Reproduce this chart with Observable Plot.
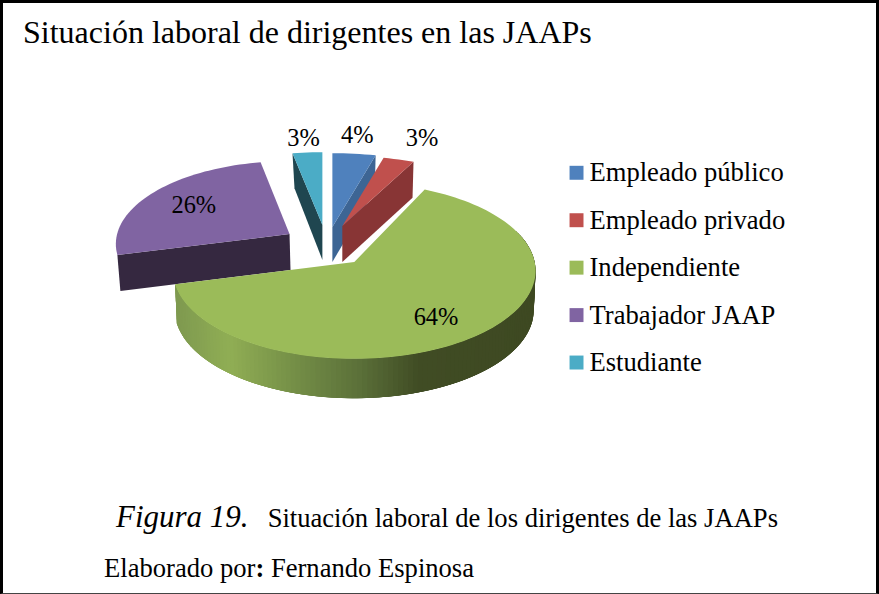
<!DOCTYPE html>
<html lang="es">
<head>
<meta charset="utf-8">
<script src="https://cdn.jsdelivr.net/npm/d3@7"></script>
<script src="https://cdn.jsdelivr.net/npm/@observablehq/plot@0.6"></script>
<style>
  html,body{margin:0;padding:0;background:#fff;}
  #frame{position:relative;box-sizing:border-box;width:879px;height:594px;border:solid #000;border-width:3px 3px 1px 3px;border-bottom-color:#444;overflow:hidden;font-family:"Liberation Serif",serif;color:#000;}
  #title{position:absolute;left:20px;top:11px;font-size:32px;line-height:36px;white-space:nowrap;}
  #plot{position:absolute;left:-3px;top:107px;}
  #plot svg{display:block;}
  #fig{position:absolute;left:113px;top:494px;white-space:nowrap;line-height:40px;}
  #fig i{font-size:31px;}
  #fig span{font-size:26.6px;margin-left:19px;}
  #by{position:absolute;left:101px;top:550px;font-size:26.6px;line-height:30px;white-space:nowrap;}
</style>
</head>
<body>
<div id="frame">
  <div id="title">Situación laboral de dirigentes en las JAAPs</div>
  <div id="plot"></div>
  <div id="fig"><i>Figura 19.</i><span>Situación laboral de los dirigentes de las JAAPs</span></div>
  <div id="by">Elaborado por<b>:</b> Fernando Espinosa</div>
</div>
<script>
// Data
const categories = ["Empleado público", "Empleado privado", "Independiente", "Trabajador JAAP", "Estudiante"];
const percents = [4, 3, 64, 26, 3];
const colors = ["#4F81BD", "#C0504D", "#9BBB59", "#8064A2", "#4BACC6"];
const sideColors = ["#3D6594", "#883535", null, "#352840", "#1F4650"];

// Layout of the exploded, tilted pie (perspective view of each slice)
const tilt = [
  {cx: 333, cy: 227, R: 195, Ry: 83, k: 0.12, depth: 35, face: "end"},
  {cx: 343, cy: 226, R: 186, Ry: 79, k: 0.12, depth: 36, face: "end"},
  {cx: 355, cy: 262, R: 181, Ry: 87.5, k: 0.10, depth: 39.5, face: "rim"},
  {cx: 290, cy: 234, R: 173, Ry: 82, k: 0.12, depth: 36, face: "start"},
  {cx: 323, cy: 225, R: 179, Ry: 82, k: 0.12, depth: 35, face: "start"}
];
const paintOrder = [3, 4, 0, 1, 2];
const labelAnchors = [[358, 135], [423, 138], [437, 317], [194, 205], [304, 138]];
const legendX = 578, legendTextX = 591, legendTop = 172.5, legendStep = 47.6;
const rimShade = [[178, "#7F9A50"], [230, "#90AE54"], [300, "#728C46"], [360, "#5B7039"], [420, "#404C24"], [535, "#3E4922"]];

// Angles from the values
const total = d3.sum(percents);
let acc = 0;
const spans = percents.map(p => { const a0 = acc / total * 2 * Math.PI; acc += p; return [a0, acc / total * 2 * Math.PI]; });

const point = (g, a) => {
  const u = Math.sin(a), v = Math.cos(a), s = 1 / (1 + g.k * v);
  return [g.cx + g.R * u * s, g.cy - g.Ry * v * s];
};
const angles = (a0, a1, step = Math.PI / 90) => {
  const n = Math.max(2, Math.ceil((a1 - a0) / step));
  return d3.range(n + 1).map(i => a0 + (a1 - a0) * i / n);
};
const shade = d3.scaleLinear().domain(rimShade.map(d => d[0])).range(rimShade.map(d => d[1])).clamp(true);

const polys = (rings) => rings.flatMap((r, id) => r.pts.map(([x, y]) => ({id, x, y, cat: r.cat, shade: r.shade})));
const poly = (rows, fill) => Plot.line(rows, {x: "x", y: "y", z: "id", curve: "linear-closed", ...fill});

const marks = [];
for (const i of paintOrder) {
  const g = tilt[i], [a0, a1] = spans[i], cat = categories[i];
  const arc = angles(a0, a1).map(a => point(g, a));
  // Side of the slice
  if (g.face === "rim") {
    // Overlapping strips, painted from the right-hand end: each one is covered by the next
    const strips = [];
    const as = angles(Math.PI * 0.38, a1, Math.PI / 120);
    const down = ([x, y]) => [g.cx + (x - g.cx) * 0.99, y + g.depth];
    for (let j = 0; j < as.length - 1; j++) {
      const p = point(g, as[j]), q = point(g, as[j + 1]);
      const end = point(g, as[Math.min(j + 4, as.length - 1)]);
      strips.push({cat, shade: shade((p[0] + q[0]) / 2), pts: [p, end, down(end), down(p)]});
    }
    marks.push(poly(polys(strips), {fill: {value: "shade", scale: null}, stroke: "none"}));
  } else {
    const corner = g.face === "end" ? arc[arc.length - 1] : arc[0];
    const apex = [g.cx, g.cy];
    const drop = ([x, y], dx = 0) => [x + dx, y + g.depth];
    const pts = [apex, corner, drop(corner, i === 3 ? 3 : (i === 4 ? 2 : -1)), drop(apex, i === 3 ? 1 : 0)];
    marks.push(poly(polys([{cat, shade: sideColors[i], pts}]), {fill: {value: "shade", scale: null}, stroke: "none"}));
  }
  // Top of the slice
  marks.push(poly(polys([{cat, pts: [[g.cx, g.cy], ...arc]}]), {fill: "cat", stroke: "none"}));
}

// Percent labels
const labels = percents.map((p, i) => ({text: p + "%", x: labelAnchors[i][0], y: labelAnchors[i][1]}));
marks.push(Plot.text(labels, {x: "x", y: "y", text: "text", fontSize: 24.5, fontFamily: "Liberation Serif", fill: "#000", lineAnchor: "middle"}));

// Legend
const legend = categories.map((c, i) => ({c, x: legendX, tx: legendTextX, y: legendTop + i * legendStep}));
marks.push(Plot.dot(legend, {x: "x", y: "y", fill: "c", symbol: "square", r: 7.9, stroke: "none"}));
marks.push(Plot.text(legend, {x: "tx", y: "y", text: "c", textAnchor: "start", fontSize: 26.7, fontFamily: "Liberation Serif", fill: "#000", lineAnchor: "middle"}));

const chart = Plot.plot({
  width: 879, height: 300,
  marginTop: 0, marginRight: 0, marginBottom: 0, marginLeft: 0,
  x: {domain: [0, 879], range: [0, 879], axis: null},
  y: {domain: [110, 410], range: [0, 300], axis: null},
  color: {domain: categories, range: colors},
  style: {background: "transparent", overflow: "visible"},
  marks
});
document.getElementById("plot").appendChild(chart);
</script>
</body>
</html>
